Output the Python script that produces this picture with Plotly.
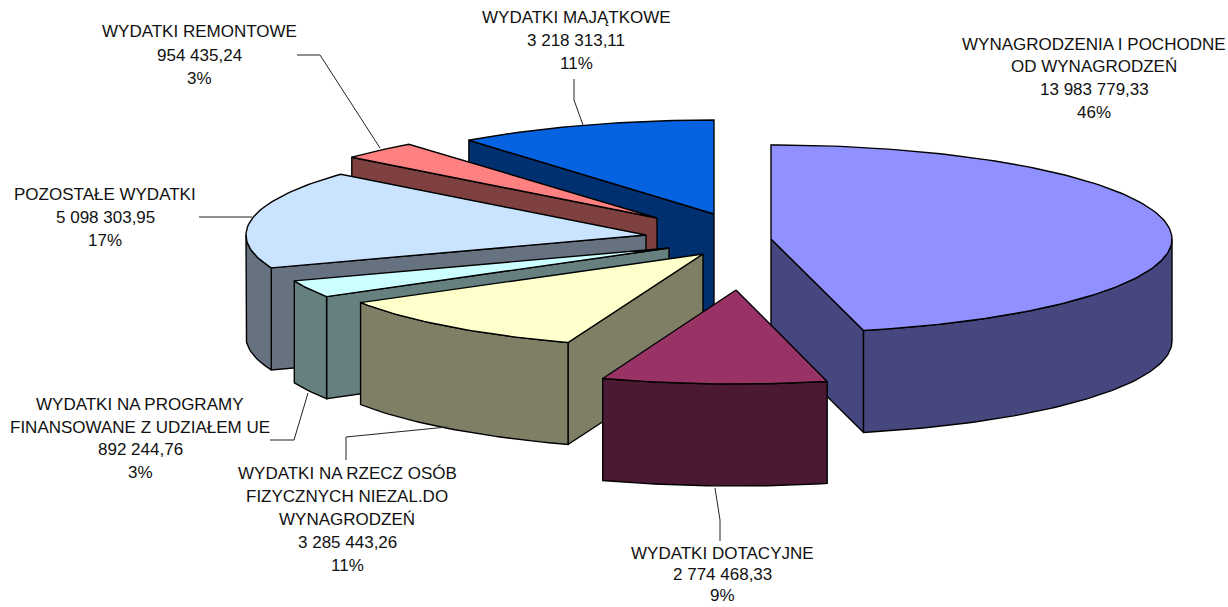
import math
import plotly.graph_objects as go

# ---- data ----
categories = [
    ["WYNAGRODZENIA I POCHODNE", "OD WYNAGRODZEŃ"],
    ["WYDATKI DOTACYJNE"],
    ["WYDATKI NA RZECZ OSÓB", "FIZYCZNYCH NIEZAL.DO", "WYNAGRODZEŃ"],
    ["WYDATKI NA PROGRAMY", "FINANSOWANE Z UDZIAŁEM UE"],
    ["POZOSTAŁE WYDATKI"],
    ["WYDATKI REMONTOWE"],
    ["WYDATKI MAJĄTKOWE"],
]
values = [13983779.33, 2774468.33, 3285443.26, 892244.76, 5098303.95, 954435.24, 3218313.11]

# ---- styles and layout of the pseudo-3D pie ----
top_colors = ["#9090FF", "#993366", "#FFFFCC", "#CCFFFF", "#CAE4FF", "#FF8080", "#0563E2"]
side_colors = ["#47477F", "#4C1933", "#7F7F66", "#667F7F", "#66727F", "#7F4040", "#003070"]
apex = [(771, 239), (736, 290), (703, 254), (669, 248), (646, 235), (657, 218), (714, 214)]
radius_x = [401, 395, 400, 400, 400, 400, 395]
RY, DEPTH = 94, 102
draw_order = [6, 5, 4, 3, 2, 0, 1]
label_pos = [
    (1094, [44, 66, 89, 112]),
    (722, [553, 574, 595]),
    (347, [473, 496, 519, 542, 565]),
    (140, [404, 427, 449, 472]),
    (105, [194, 217, 240]),
    (199, [31, 55, 78]),
    (576, [17, 40, 63]),
]
leaders = [
    [],
    [(720, 541), (720, 520), (715, 488)],
    [(346, 460), (346, 437), (447, 427)],
    [(270, 440), (294, 440), (308, 393)],
    [(199, 217), (252, 217)],
    [(297, 55), (320, 55), (380, 148)],
    [(574, 79), (574, 100), (583, 125)],
]

total = sum(values)
bounds = [0.0]
for v in values:
    bounds.append(bounds[-1] + v / total * 360)


def rim_point(ap, rx, deg, drop=0):
    r = math.radians(deg)
    return ap[0] + rx * math.sin(r), ap[1] - RY * math.cos(r) + drop


def arc(ap, rx, a, b, drop=0):
    n = max(2, int(abs(b - a)) + 1)
    return [rim_point(ap, rx, a + (b - a) * i / n, drop) for i in range(n + 1)]


fig = go.Figure()


def face(points, color, name):
    xs = [p[0] for p in points] + [points[0][0]]
    ys = [p[1] for p in points] + [points[0][1]]
    fig.add_trace(go.Scatter(x=xs, y=ys, mode="lines", fill="toself", fillcolor=color,
                             line=dict(color="#000000", width=1.4), hoverinfo="skip",
                             showlegend=False, name=name))


for i in draw_order:
    a, b = bounds[i], bounds[i + 1]
    ap, rx = apex[i], radius_x[i]
    base = (ap[0], ap[1] + DEPTH)
    # radial cut faces that look towards the viewer
    if math.sin(math.radians(a)) < -1e-6:
        p = rim_point(ap, rx, a)
        face([ap, p, (p[0], p[1] + DEPTH), base], side_colors[i], f"cut-a-{i}")
    if math.sin(math.radians(b)) > 1e-6:
        p = rim_point(ap, rx, b)
        face([ap, p, (p[0], p[1] + DEPTH), base], side_colors[i], f"cut-b-{i}")
    # outer wall: only the front half of the rim is visible
    lo, hi = max(a, 90), min(b, 270)
    if lo < hi:
        face(arc(ap, rx, lo, hi) + arc(ap, rx, hi, lo, DEPTH), side_colors[i], f"wall-{i}")
    # top face
    face([ap] + arc(ap, rx, a, b), top_colors[i], f"top-{i}")

# leader lines
for i, pts in enumerate(leaders):
    if len(pts) < 2:
        continue
    fig.add_trace(go.Scatter(x=[p[0] for p in pts], y=[p[1] for p in pts], mode="lines",
                             line=dict(color="#222222", width=1), hoverinfo="skip",
                             showlegend=False, name=f"leader-{i}"))


def fmt(v):
    return f"{v:,.2f}".replace(",", " ").replace(".", ",")


annotations = []
for i, cat in enumerate(categories):
    lines = cat + [fmt(values[i]), f"{round(values[i] / total * 100)}%"]
    cx, ys = label_pos[i]
    for text, y in zip(lines, ys):
        annotations.append(dict(x=cx, y=y, xref="x", yref="y", text=text, showarrow=False,
                                xanchor="center", yanchor="middle",
                                font=dict(family="Liberation Sans", size=17, color="#111111")))

fig.update_layout(
    width=1228, height=607, margin=dict(l=0, r=0, t=0, b=0),
    paper_bgcolor="#FFFFFF", plot_bgcolor="#FFFFFF", showlegend=False,
    xaxis=dict(range=[0, 1228], visible=False, fixedrange=True),
    yaxis=dict(range=[607, 0], visible=False, fixedrange=True),
    annotations=annotations,
)
fig.write_html("out.html", config={"displayModeBar": False},
               post_script="document.body.style.margin='0';document.body.style.overflow='hidden';")
